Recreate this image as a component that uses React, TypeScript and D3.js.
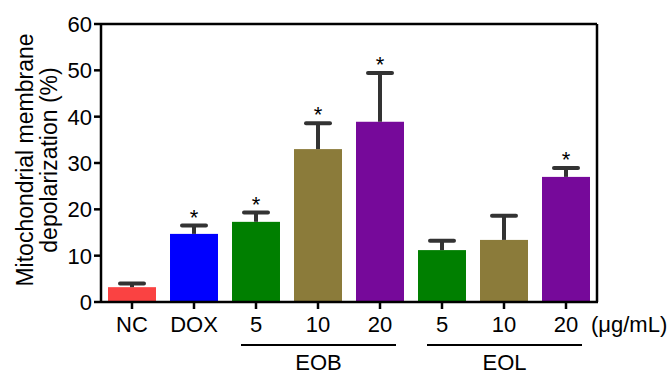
import * as d3 from "d3";

const width = 672;
const height = 374;

const categories = ["NC", "DOX", "EOB5", "EOB10", "EOB20", "EOL5", "EOL10", "EOL20"];
const tickLabels = ["NC", "DOX", "5", "10", "20", "5", "10", "20"];
const means = [3.2, 14.7, 17.3, 33.0, 38.9, 11.2, 13.4, 27.0];
const errors = [0.8, 1.8, 2.0, 5.6, 10.5, 2.0, 5.2, 1.9];
const significant = [false, true, true, true, true, false, false, true];
const colors = ["#fa4242", "#0000ff", "#007f00", "#8b7b3a", "#76099a", "#007f00", "#8b7b3a", "#76099a"];
const yTicks = [0, 10, 20, 30, 40, 50, 60];
const groups = [
  { name: "EOB", from: "EOB5", to: "EOB20" },
  { name: "EOL", from: "EOL5", to: "EOL20" },
];

const margin = { left: 101, right: 75, top: 24, bottom: 72 };

const App = () => {
  const x = d3
    .scaleBand()
    .domain(categories)
    .range([margin.left, width - margin.right])
    .paddingInner(0.226)
    .paddingOuter(0.113);
  const y = d3
    .scaleLinear()
    .domain([0, 60])
    .range([height - margin.bottom, margin.top]);

  const x0 = margin.left;
  const x1 = width - margin.right;
  const yb = y(0);
  const font = "'Liberation Sans', Arial, sans-serif";

  return (
    <svg width={width} height={height} style={{ position: "absolute", left: 0, top: 0 }}>
      <g fontFamily={font}>
        {categories.map((c, i) => {
          const cx = x(c)! + x.bandwidth() / 2;
          const top = y(means[i] + errors[i]);
          return (
            <g key={c}>
              <rect x={x(c)} y={y(means[i])} width={x.bandwidth()} height={yb - y(means[i])} fill={colors[i]} />
              <line x1={cx} x2={cx} y1={y(means[i])} y2={top} stroke="#333" strokeWidth={4} />
              <line x1={cx - 12} x2={cx + 12} y1={top} y2={top} stroke="#333" strokeWidth={4} strokeLinecap="round" />
              {significant[i] && (
                <text x={cx} y={top - 1} textAnchor="middle" fontSize={22} fill="#000">
                  *
                </text>
              )}
            </g>
          );
        })}

        {/* frame */}
        <line x1={x0} x2={x1} y1={margin.top} y2={margin.top} stroke="#000" strokeWidth={2.5} />
        <line x1={x1} x2={x1} y1={margin.top} y2={yb} stroke="#000" strokeWidth={2.5} />
        <line x1={x0} x2={x0} y1={margin.top - 1} y2={yb + 1} stroke="#000" strokeWidth={2.5} />
        <line x1={x0} x2={x1 + 1} y1={yb} y2={yb} stroke="#000" strokeWidth={2.5} />

        {yTicks.map((t) => (
          <g key={t}>
            <line x1={x0 - 7} x2={x0} y1={y(t)} y2={y(t)} stroke="#000" strokeWidth={2.5} />
            <text x={x0 - 9} y={y(t)} dy="0.36em" textAnchor="end" fontSize={22}>
              {t}
            </text>
          </g>
        ))}

        {categories.map((c, i) => {
          const cx = x(c)! + x.bandwidth() / 2;
          return (
            <g key={c}>
              <line x1={cx} x2={cx} y1={yb} y2={yb + 7} stroke="#000" strokeWidth={2.5} />
              <text x={cx} y={332} textAnchor="middle" fontSize={22}>
                {tickLabels[i]}
              </text>
            </g>
          );
        })}
        <text x={591} y={332} fontSize={22}>
          (μg/mL)
        </text>

        {groups.map((g) => {
          const a = x(g.from)! + x.bandwidth() / 2 - 15;
          const b = x(g.to)! + x.bandwidth() / 2 + 16;
          return (
            <g key={g.name}>
              <line x1={a} x2={b} y1={345} y2={345} stroke="#000" strokeWidth={2} />
              <text x={(a + b) / 2} y={370} textAnchor="middle" fontSize={22}>
                {g.name}
              </text>
            </g>
          );
        })}

        <text transform={`translate(33,160) rotate(-90)`} textAnchor="middle" fontSize={23}>
          Mitochondrial membrane
        </text>
        <text transform={`translate(57,160) rotate(-90)`} textAnchor="middle" fontSize={23}>
          depolarization (%)
        </text>
      </g>
    </svg>
  );
};

export default App;
